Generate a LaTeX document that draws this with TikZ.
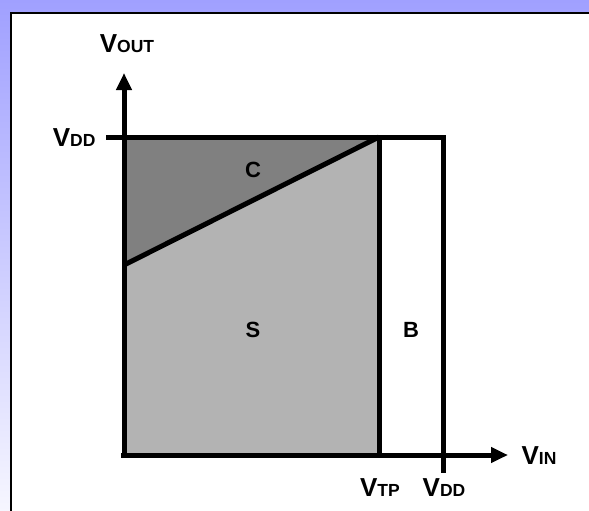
\documentclass[tikz,border=0pt]{standalone}
\usepackage{fontspec}
\setmainfont{Liberation Sans}
\usetikzlibrary{arrows.meta}
\definecolor{slideblue}{RGB}{160,160,255}
\definecolor{slidepale}{RGB}{246,246,255}
\definecolor{cutoffgray}{RGB}{128,128,128}
\definecolor{satgray}{RGB}{179,179,179}
\newcommand{\vlabel}[1]{{\fontsize{26}{26}\selectfont V}{\fontsize{17.5}{17.5}\selectfont #1}}
\begin{document}
\begin{tikzpicture}[x=1pt, y=-1pt, line width=5pt, font=\bfseries,
    region/.style={font=\fontsize{22}{22}\selectfont\bfseries},
    axis/.style={-{Triangle[length=17pt,width=15pt]}}]
  \useasboundingbox (0,0) rectangle (589,511);
  \shade[top color=slideblue, bottom color=slidepale] (0,0) rectangle (589,511);
  \fill[white] (11,13) rectangle (589,511);
  \draw[line width=2.5pt] (11,511) -- (11,13) -- (589,13);
  % key points
  \coordinate (O) at (124,455);
  \coordinate (vddy) at (124,137);
  \coordinate (knee) at (379,137);
  \coordinate (vtp) at (379,455);
  \coordinate (vddx) at (443,455);
  \coordinate (start) at (124,265);
  % regions
  \fill[satgray] (start) -- (knee) -- (vtp) -- (O) -- cycle;
  \fill[cutoffgray] (vddy) -- (knee) -- (start) -- cycle;
  % borders
  \draw[miter limit=4] (106,137) -- (443,137) -- (443,473);
  \draw (knee) -- (vtp);
  \draw (start) -- (knee);
  % axes
  \draw[axis] (124,458) -- (124,73);
  \draw[axis] (121,455) -- (508,455);
  % labels
  \node[anchor=east, inner sep=0pt] at (98,138) {\vlabel{DD}};
  \node[inner sep=0pt] at (127,44) {\vlabel{OUT}};
  \node[inner sep=0pt] at (539,456) {\vlabel{IN}};
  \node[inner sep=0pt] at (380,488) {\vlabel{TP}};
  \node[inner sep=0pt] at (444,488) {\vlabel{DD}};
  \node[region] at (253,170) {C};
  \node[region] at (253,330) {S};
  \node[region] at (411,330) {B};
\end{tikzpicture}
\end{document}
